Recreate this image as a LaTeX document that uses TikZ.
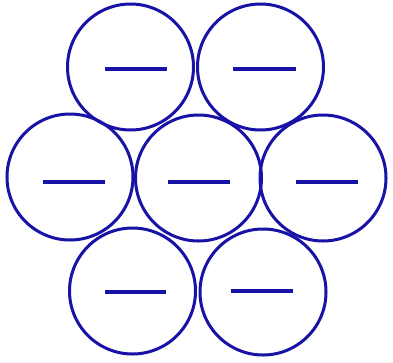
\documentclass[tikz,border=0pt]{standalone}
\begin{document}
\begin{tikzpicture}[x=1pt,y=-1pt,
  ion/.style={circle,draw=ionblue,line width=3pt,minimum size=126pt,inner sep=0pt},
  minus/.style={draw=ionblue,line width=3.6pt}]
\definecolor{ionblue}{RGB}{24,18,166}
\useasboundingbox[fill=white] (0,0) rectangle (393,362);
\node[ion] (a) at (130.5,67) {};
\node[ion] (b) at (260.5,67) {};
\node[ion] (c) at (70,177) {};
\node[ion] (d) at (198.5,178) {};
\node[ion] (e) at (323,178) {};
\node[ion] (f) at (132.5,291) {};
\node[ion] (g) at (263,292) {};
\path[minus] (105,69) -- (167,69);
\path[minus] (233,69) -- (296,69);
\path[minus] (43,182) -- (105,182);
\path[minus] (168,182) -- (230,182);
\path[minus] (296,182) -- (358,182);
\path[minus] (105,292) -- (166,292);
\path[minus] (231,291) -- (293,291);
\end{tikzpicture}
\end{document}
